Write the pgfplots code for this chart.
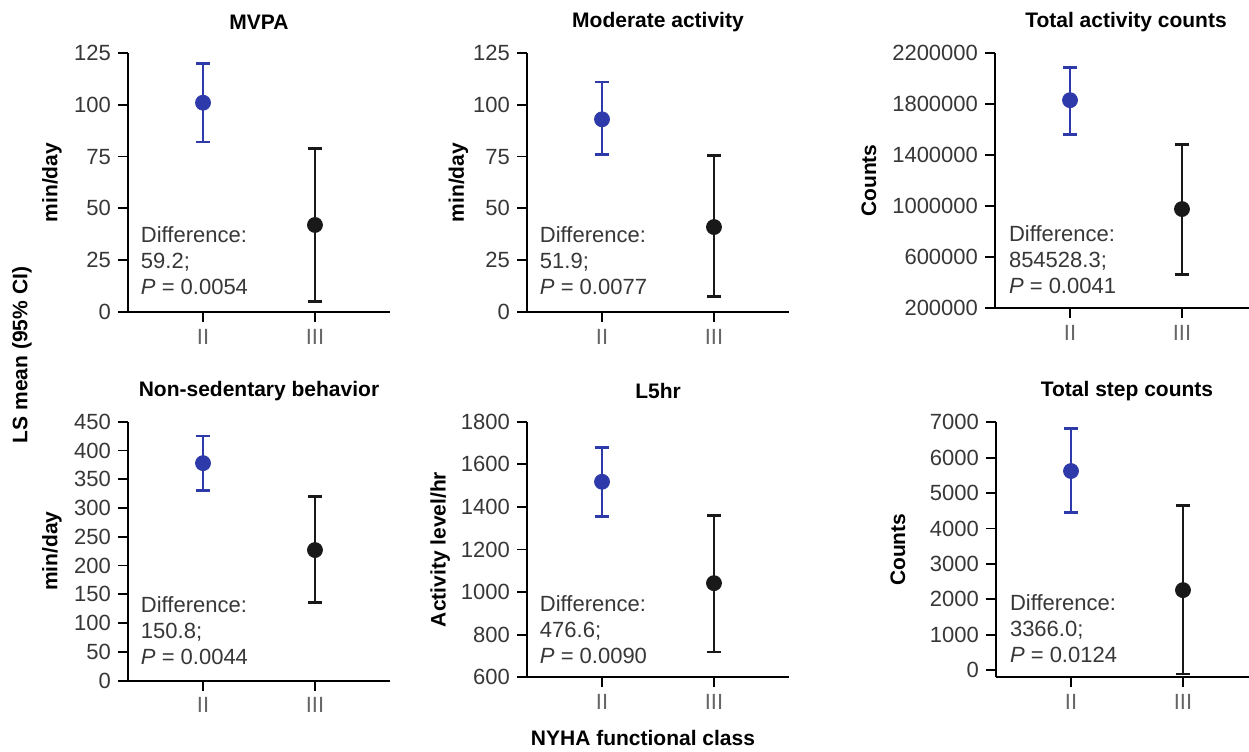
\documentclass[border=0pt]{standalone}
\usepackage{fontspec}
\setmainfont{Liberation Sans}
\usepackage{pgfplots}
\pgfplotsset{compat=1.18}
\definecolor{ptblue}{RGB}{46,58,170}
\definecolor{ptblack}{RGB}{25,25,25}
\definecolor{txtgray}{RGB}{55,55,55}

\pgfplotsset{
  panel/.style={
    scale only axis, width=131pt,
    axis x line*=bottom, axis y line*=left,
    axis line style={-, line width=0.9pt, black},
    xtick pos=bottom, ytick pos=left,
    xtick align=outside, ytick align=outside,
    major tick length=5pt,
    tick style={line width=0.9pt, black},
    xtick={1,2}, xticklabels={II,III},
    xmin=0.33, xmax=2.67,
    clip=false,
    scaled y ticks=false,
    /pgf/number format/assume math mode=true,
    yticklabel style={/pgf/number format/fixed, /pgf/number format/1000 sep={}},
    tick label style={font=\fontsize{11}{13}\selectfont, text=txtgray},
    xticklabel style={text=black!60},
    title style={font=\fontsize{10.5}{12}\selectfont\bfseries, at={(0.5,1)}, anchor=center, yshift=9.5pt},
    ylabel style={font=\fontsize{10.5}{12}\selectfont\bfseries, anchor=center},
  },
  ci/.style={only marks, mark=*, mark size=3.75pt, color=#1,
    error bars/y dir=both, error bars/y explicit,
    error bars/error bar style={line width=1.3pt, color=#1},
    error bars/error mark options={rotate=90, line width=1.3pt, mark size=3.3pt, color=#1}},
}
\tikzset{diff/.style={anchor=west, align=left, inner sep=0pt, text=txtgray,
    font=\fontsize{11}{13}\selectfont},
  xt/.style={line width=0.9pt, black}}
% tick marks under the two classes: #1 = ymin, #2 = tick end (data units)
\newcommand{\classticks}[2]{%
  \draw[xt] (axis cs:1,#1) -- (axis cs:1,#2);
  \draw[xt] (axis cs:2,#1) -- (axis cs:2,#2);}

\begin{document}
\begin{tikzpicture}
\useasboundingbox (0,0) rectangle (624.5pt,375.5pt);

% MVPA
\begin{axis}[panel, at={(64pt,219.5pt)}, anchor=south west, height=129.5pt,
  ymin=0, ymax=125, ytick={0,25,...,125},
  title={MVPA}, ylabel={min/day},
  ylabel style={at={(axis description cs:-0.29,0.5)}}]
\addplot[ci=ptblue] coordinates {(1,101) += (0,19) -= (0,19)};
\addplot[ci=ptblack] coordinates {(2,42) += (0,37) -= (0,37)};
\classticks{0}{-3.9}
\node[diff] at (axis description cs:0.048,0.2) {Difference:\\59.2;\\\textit{P} = 0.0054};
\end{axis}

% Moderate activity
\begin{axis}[panel, at={(263.5pt,219.5pt)}, anchor=south west, height=129.5pt,
  ymin=0, ymax=125, ytick={0,25,...,125},
  title={Moderate activity}, ylabel={min/day},
  ylabel style={at={(axis description cs:-0.262,0.5)}}]
\addplot[ci=ptblue] coordinates {(1,93) += (0,18) -= (0,17)};
\addplot[ci=ptblack] coordinates {(2,41) += (0,34.5) -= (0,33.5)};
\classticks{0}{-3.9}
\node[diff] at (axis description cs:0.048,0.2) {Difference:\\51.9;\\\textit{P} = 0.0077};
\end{axis}

% Total activity counts
\begin{axis}[panel, at={(497.5pt,221.5pt)}, anchor=south west, height=127.5pt,
  ymin=200000, ymax=2200000, ytick={200000,600000,1000000,1400000,1800000,2200000},
  title={Total activity counts}, ylabel={Counts},
  ylabel style={at={(axis description cs:-0.481,0.5)}}]
\addplot[ci=ptblue] coordinates {(1,1830000) += (0,258000) -= (0,268000)};
\addplot[ci=ptblack] coordinates {(2,976000) += (0,508000) -= (0,515000)};
\classticks{200000}{137000}
\node[diff] at (axis description cs:0.052,0.19) {Difference:\\854528.3;\\\textit{P} = 0.0041};
\end{axis}

% Non-sedentary behavior
\begin{axis}[panel, at={(64pt,35.15pt)}, anchor=south west, height=129.5pt,
  ymin=0, ymax=450, ytick={0,50,...,450},
  title={Non-sedentary behavior}, ylabel={min/day},
  ylabel style={at={(axis description cs:-0.29,0.5)}}]
\addplot[ci=ptblue] coordinates {(1,378) += (0,47) -= (0,48)};
\addplot[ci=ptblack] coordinates {(2,227) += (0,93) -= (0,91)};
\classticks{0}{-14}
\node[diff] at (axis description cs:0.048,0.195) {Difference:\\150.8;\\\textit{P} = 0.0044};
\end{axis}

% L5hr
\begin{axis}[panel, at={(263.5pt,36.85pt)}, anchor=south west, height=127.8pt,
  ymin=600, ymax=1800, ytick={600,800,...,1800},
  title={L5hr}, ylabel={Activity level/hr},
  ylabel style={at={(axis description cs:-0.331,0.5)}}]
\addplot[ci=ptblue] coordinates {(1,1518) += (0,160) -= (0,164)};
\addplot[ci=ptblack] coordinates {(2,1042) += (0,319) -= (0,324)};
\classticks{600}{562}
\node[diff] at (axis description cs:0.048,0.185) {Difference:\\476.6;\\\textit{P} = 0.0090};
\end{axis}

% Total step counts
\begin{axis}[panel, at={(498pt,36.85pt)}, anchor=south west, height=127.5pt,
  ymin=-200, ymax=7000, ytick={0,1000,...,7000},
  title={Total step counts}, ylabel={Counts},
  ylabel style={at={(axis description cs:-0.374,0.5)}}]
\addplot[ci=ptblue] coordinates {(1,5624) += (0,1206) -= (0,1178)};
\addplot[ci=ptblack] coordinates {(2,2261) += (0,2382) -= (0,2373)};
\classticks{-200}{-426}
\node[diff] at (axis description cs:0.052,0.19) {Difference:\\3366.0;\\\textit{P} = 0.0124};
\end{axis}

\node[rotate=90, font=\fontsize{10.5}{12}\selectfont\bfseries] at (11pt,198pt) {LS mean (95\% CI)};
\node[font=\fontsize{10.5}{12}\selectfont\bfseries] at (321.5pt,6.5pt) {NYHA functional class};
\end{tikzpicture}
\end{document}
